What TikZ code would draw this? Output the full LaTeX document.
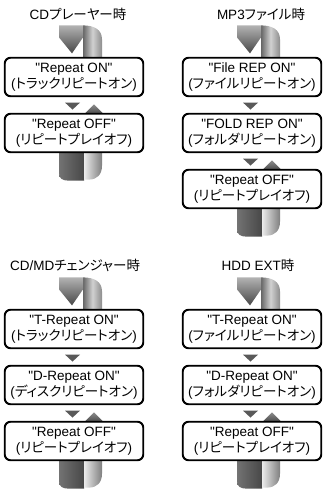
\documentclass[tikz,border=0pt]{standalone}
\usepackage{fontspec}
\setmainfont{Liberation Sans}[Ligatures=TeXOff]
\newfontfamily\jp[RawFeature=+palt]{Noto Sans CJK JP}
\usetikzlibrary{calc}

% ribbon over the first box
\newcommand{\toploop}[1]{%
  \begin{scope}[shift={(#1.north)}]
    \path[left color=black!60, right color=black!45, middle color=black!18]
      (9,0) -- (9,-32) .. controls (20,-32) and (28,-28) .. (28,-18) -- (28,0) -- cycle;
    \path[top color=black!30, bottom color=black!72]
      (-15,-32) -- (9,-32) -- (9,-20) -- (-2,-4) -- (-15,-20) -- cycle;
  \end{scope}}
% ribbon under the last box
\newcommand{\bottomloop}[1]{%
  \begin{scope}[shift={(#1.south)}]
    \path[left color=black!55, right color=black!72]
      (-15,0) -- (-15,21) .. controls (-15,26) and (-11,28) .. (-6,28) -- (10,28) -- (10,0) -- cycle;
    \path[left color=black!8, right color=black!50]
      (10,0) -- (10,27) -- (15,27) .. controls (23,27) and (28,22) .. (28,13) -- (28,0) -- cycle;
  \end{scope}}
\newcommand{\downtri}[1]{%
  \fill[black!65, shift={(#1.south)}] (-9,6) -- (6,6) -- (-1.5,13) -- cycle;}
\newcommand{\uptri}[1]{%
  \path[top color=black!45, bottom color=black!70, shift={(#1.north)}] (11,0) -- (29,0) -- (20,-9) -- cycle;}

\begin{document}
\begin{tikzpicture}[x=1pt, y=-1pt,
    modebox/.style={draw, line width=1.2pt, fill=white, rounded corners=6pt,
      minimum width=138pt, minimum height=38pt, inner sep=0pt, align=center,
      font=\fontsize{13.5}{16}\selectfont},
    heading/.style={inner sep=0pt, font=\fontsize{13.5}{16}\selectfont}]
  \useasboundingbox (0,0) rectangle (324,489);

  % CD player
  \node[heading] (cdtitle) at (78,14) {CD{\jp プレーヤー時}};
  \node[modebox] (cdon) at (74,77) {"Repeat ON"\\({\jp トラックリピートオン})};
  \node[modebox] (cdoff) at (74,133) {"Repeat OFF"\\({\jp リピートプレイオフ})};

  % MP3 file
  \node[heading] (mptitle) at (261,14) {MP3{\jp ファイル時}};
  \node[modebox] (mpfile) at (252,77) {"File REP ON"\\({\jp ファイルリピートオン})};
  \node[modebox] (mpfold) at (252,133) {"FOLD REP ON"\\({\jp フォルダリピートオン})};
  \node[modebox] (mpoff) at (252,189) {"Repeat OFF"\\({\jp リピートプレイオフ})};

  % CD/MD changer
  \node[heading] (chtitle) at (75,265) {CD/MD{\jp チェンジャー時}};
  \node[modebox] (chtrack) at (74,329) {"T-Repeat ON"\\({\jp トラックリピートオン})};
  \node[modebox] (chdisc) at (74,385) {"D-Repeat ON"\\({\jp ディスクリピートオン})};
  \node[modebox] (choff) at (74,441) {"Repeat OFF"\\({\jp リピートプレイオフ})};

  % HDD EXT
  \node[heading] (hddtitle) at (258,265) {HDD EXT{\jp 時}};
  \node[modebox] (hddtrack) at (252,329) {"T-Repeat ON"\\({\jp ファイルリピートオン})};
  \node[modebox] (hdddisc) at (252,385) {"D-Repeat ON"\\({\jp フォルダリピートオン})};
  \node[modebox] (hddoff) at (252,441) {"Repeat OFF"\\({\jp リピートプレイオフ})};

  % ribbons and arrows
  \toploop{cdon} \downtri{cdon} \uptri{cdoff} \bottomloop{cdoff}
  \toploop{mpfile} \downtri{mpfile} \downtri{mpfold} \uptri{mpoff} \bottomloop{mpoff}
  \toploop{chtrack} \downtri{chtrack} \downtri{chdisc} \uptri{choff} \bottomloop{choff}
  \toploop{hddtrack} \downtri{hddtrack} \downtri{hdddisc} \uptri{hddoff} \bottomloop{hddoff}

  % box outlines again on top of the ribbons
  \foreach \b in {cdon,cdoff,mpfile,mpfold,mpoff,chtrack,chdisc,choff,hddtrack,hdddisc,hddoff}
    \draw[line width=1.2pt, rounded corners=6pt] (\b.south west) rectangle (\b.north east);
\end{tikzpicture}
\end{document}
